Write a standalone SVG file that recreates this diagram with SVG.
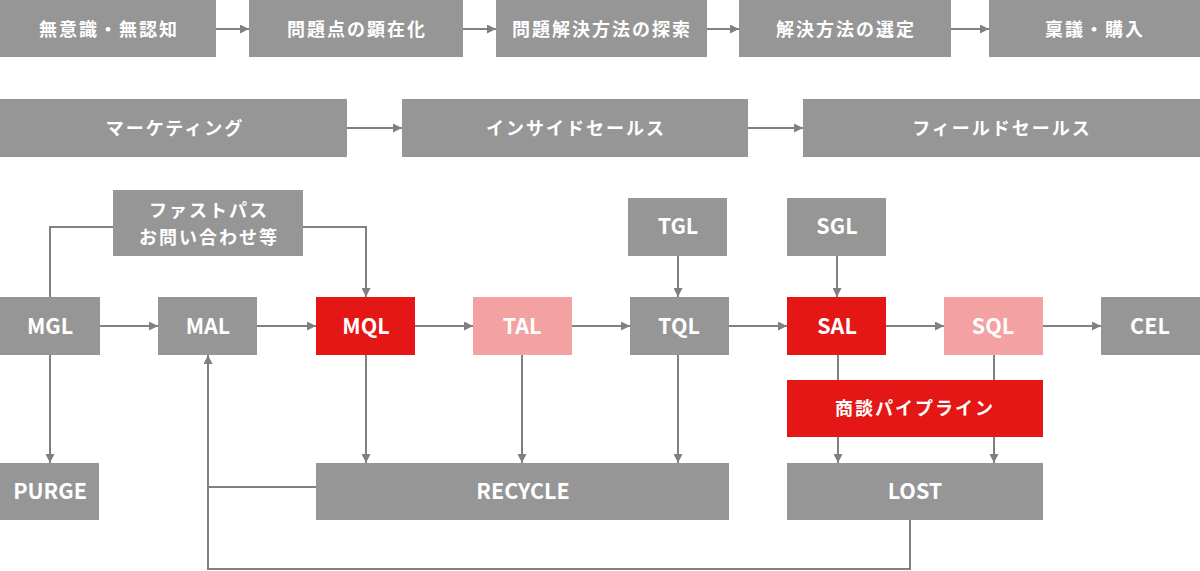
<svg xmlns="http://www.w3.org/2000/svg" width="1200" height="571" viewBox="0 0 1200 571">
<style>
.g{fill:#969696}
.r{fill:#E51616}
.p{fill:#F4A1A1}
text{fill:#fff;font-family:"Noto Sans CJK JP","Noto Sans",sans-serif;text-anchor:middle;dominant-baseline:central;transform:translateY(-1.5px)}
.jp{font-size:18px;font-weight:700;letter-spacing:2px}
.en{font-size:21.5px;font-weight:700}
.c line,.c path{stroke:#808080;stroke-width:2;fill:none}
.a{marker-end:url(#ah)}
</style>
<defs>
<marker id="ah" markerUnits="userSpaceOnUse" markerWidth="9" markerHeight="9" refX="9" refY="4.5" orient="auto">
<path d="M0,0 L9,4.5 L0,9 z" fill="#808080"/>
</marker>
</defs>
<rect width="1200" height="571" fill="#fff"/>
<g id="connectors" class="c">
<line class="a" x1="216" y1="29" x2="249" y2="29"/>
<line class="a" x1="463" y1="29" x2="496" y2="29"/>
<line class="a" x1="707" y1="29" x2="739" y2="29"/>
<line class="a" x1="951" y1="29" x2="989" y2="29"/>
<line class="a" x1="347" y1="128" x2="402" y2="128"/>
<line class="a" x1="748" y1="128" x2="803" y2="128"/>
<path d="M50,297 V227 H113"/>
<path class="a" d="M303,227 H366 V297"/>
<line class="a" x1="100" y1="326" x2="158" y2="326"/>
<line class="a" x1="257" y1="326" x2="316" y2="326"/>
<line class="a" x1="415" y1="326" x2="473" y2="326"/>
<line class="a" x1="572" y1="326" x2="630" y2="326"/>
<line class="a" x1="729" y1="326" x2="787" y2="326"/>
<line class="a" x1="886" y1="326" x2="944" y2="326"/>
<line class="a" x1="1043" y1="326" x2="1101" y2="326"/>
<line class="a" x1="678" y1="256" x2="678" y2="297"/>
<line class="a" x1="837" y1="256" x2="837" y2="297"/>
<line class="a" x1="50" y1="355" x2="50" y2="463"/>
<line class="a" x1="366" y1="355" x2="366" y2="463"/>
<line class="a" x1="522" y1="355" x2="522" y2="463"/>
<line class="a" x1="678" y1="355" x2="678" y2="463"/>
<path d="M316,487 H208"/>
<path class="a" d="M910,520 V569 H208 V355"/>
<line x1="838" y1="355" x2="838" y2="380"/>
<line x1="994" y1="355" x2="994" y2="380"/>
<line class="a" x1="838" y1="437" x2="838" y2="463"/>
<line class="a" x1="994" y1="437" x2="994" y2="463"/>
</g>
<g id="n-unaware"><rect class="g" x="0" y="0" width="216" height="57"/><text class="jp" x="109" y="29">無意識・無認知</text></g>
<g id="n-problem"><rect class="g" x="249" y="0" width="214" height="57"/><text class="jp" x="357" y="29">問題点の顕在化</text></g>
<g id="n-search"><rect class="g" x="496" y="0" width="211" height="57"/><text class="jp" x="602" y="29">問題解決方法の探索</text></g>
<g id="n-select"><rect class="g" x="739" y="0" width="212" height="57"/><text class="jp" x="846" y="29">解決方法の選定</text></g>
<g id="n-purchase"><rect class="g" x="989" y="0" width="211" height="57"/><text class="jp" x="1095" y="29">稟議・購入</text></g>
<g id="n-marketing"><rect class="g" x="0" y="99" width="347" height="58"/><text class="jp" x="175" y="128">マーケティング</text></g>
<g id="n-inside"><rect class="g" x="402" y="99" width="346" height="58"/><text class="jp" x="576" y="128">インサイドセールス</text></g>
<g id="n-field"><rect class="g" x="803" y="99" width="397" height="58"/><text class="jp" x="1002" y="128">フィールドセールス</text></g>
<g id="n-fastpass"><rect class="g" x="113" y="190" width="190" height="66"/><text class="jp" x="209" y="210">ファストパス</text><text class="jp" x="209" y="237">お問い合わせ等</text></g>
<g id="n-tgl"><rect class="g" x="628" y="198" width="99" height="58"/><text class="en" x="678" y="226">TGL</text></g>
<g id="n-sgl"><rect class="g" x="787" y="198" width="99" height="58"/><text class="en" x="837" y="226">SGL</text></g>
<g id="n-mgl"><rect class="g" x="0" y="297" width="100" height="58"/><text class="en" x="50" y="326">MGL</text></g>
<g id="n-mal"><rect class="g" x="158" y="297" width="99" height="58"/><text class="en" x="208" y="326">MAL</text></g>
<g id="n-mql"><rect class="r" x="316" y="297" width="99" height="58"/><text class="en" x="366" y="326">MQL</text></g>
<g id="n-tal"><rect class="p" x="473" y="297" width="99" height="58"/><text class="en" x="522" y="326">TAL</text></g>
<g id="n-tql"><rect class="g" x="630" y="297" width="99" height="58"/><text class="en" x="679" y="326">TQL</text></g>
<g id="n-sal"><rect class="r" x="787" y="297" width="99" height="58"/><text class="en" x="837" y="326">SAL</text></g>
<g id="n-sql"><rect class="p" x="944" y="297" width="99" height="58"/><text class="en" x="993" y="326">SQL</text></g>
<g id="n-cel"><rect class="g" x="1101" y="297" width="99" height="58"/><text class="en" x="1150" y="326">CEL</text></g>
<g id="n-pipeline"><rect class="r" x="787" y="380" width="256" height="57"/><text class="jp" x="915" y="408">商談パイプライン</text></g>
<g id="n-purge"><rect class="g" x="0" y="463" width="99" height="57"/><text class="en" x="50" y="491">PURGE</text></g>
<g id="n-recycle"><rect class="g" x="316" y="463" width="413" height="57"/><text class="en" x="523" y="491">RECYCLE</text></g>
<g id="n-lost"><rect class="g" x="787" y="463" width="256" height="57"/><text class="en" x="915" y="491">LOST</text></g>
</svg>
